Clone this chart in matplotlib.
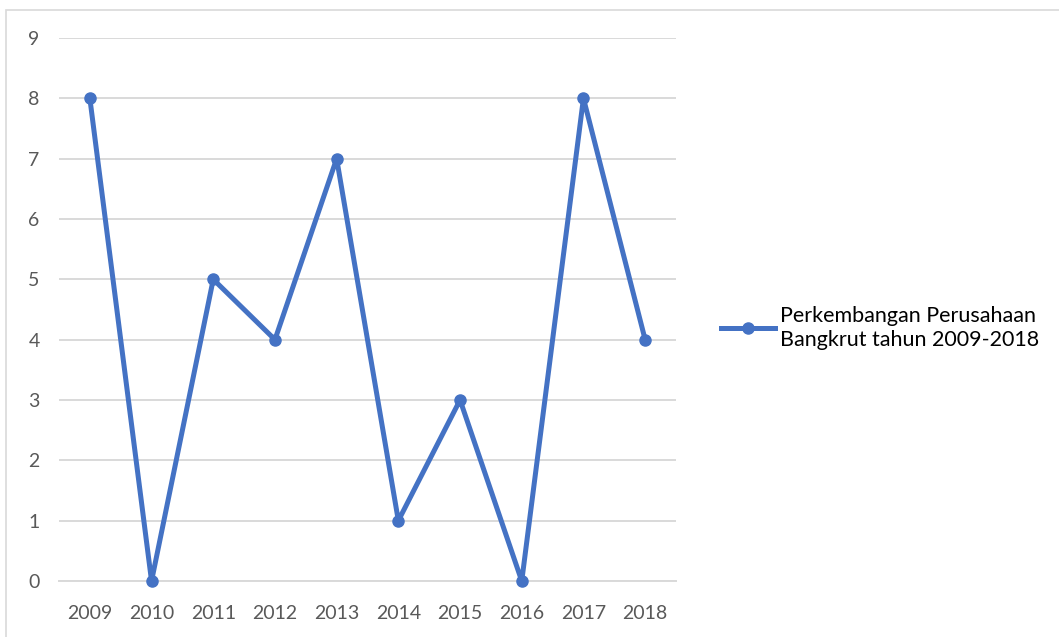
import matplotlib.pyplot as plt
import matplotlib.patches as mpatches

years = ["2009", "2010", "2011", "2012", "2013", "2014", "2015", "2016", "2017", "2018"]
bangkrut = [8, 0, 5, 4, 7, 1, 3, 0, 8, 4]
series_label = "Perkembangan Perusahaan\nBangkrut tahun 2009-2018"
yticks = list(range(0, 10))

LINE_COLOR = "#4472C4"
GRID_COLOR = "#D9D9D9"
TICK_COLOR = "#595959"

plt.rcParams["font.family"] = ["Lato", "DejaVu Sans"]

fig = plt.figure(figsize=(10.59, 6.37), dpi=100)
W, H = 1059, 637

# outer chart border (Excel-style chart area)
border = mpatches.Rectangle(
    (6 / W, -0.05), 1.1, 1 - 10 / H + 0.05,
    transform=fig.transFigure, fill=False,
    edgecolor=GRID_COLOR, linewidth=1.2,
)
fig.patches.append(border)

ax = fig.add_axes([59 / W, 1 - 581 / H, (676 - 59) / W, (581 - 38) / H])
x = range(len(years))
ax.plot(x, bangkrut, color=LINE_COLOR, linewidth=3.6, marker="o",
        markersize=8, label=series_label, solid_joinstyle="round",
        clip_on=False, zorder=3)

ax.set_xlim(-0.5, len(years) - 0.5)
ax.set_ylim(0, 9)
ax.set_xticks(list(x))
ax.set_xticklabels(years)
ax.set_yticks(yticks)
ax.yaxis.grid(True, color=GRID_COLOR, linewidth=1.4)
ax.set_axisbelow(True)
for side in ["top", "right", "left"]:
    ax.spines[side].set_visible(False)
ax.spines["bottom"].set_color(GRID_COLOR)
ax.spines["bottom"].set_linewidth(1.4)
ax.tick_params(axis="both", length=0, labelsize=14, colors=TICK_COLOR)
ax.tick_params(axis="y", pad=14)
ax.tick_params(axis="x", pad=17)

leg = fig.legend(
    loc="center left", bbox_to_anchor=(704 / W, 1 - 328 / H),
    frameon=False, fontsize=15.5, handlelength=2.5, handletextpad=0.25,
    borderpad=0.3,
)
for t in leg.get_texts():
    t.set_linespacing(1.3)

fig.savefig("out.png", dpi=100)
